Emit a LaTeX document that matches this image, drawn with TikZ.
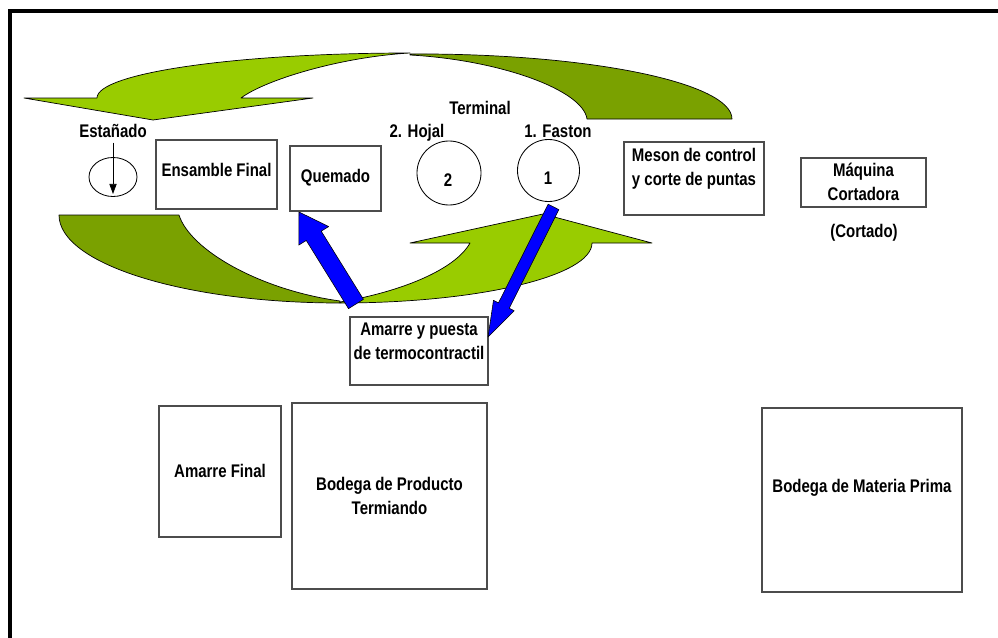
\documentclass[tikz,border=0pt]{standalone}
\usepackage{fontspec}
\newfontfamily\lblfont{Liberation Sans}[FakeStretch=0.82]
\usetikzlibrary{positioning}
\usetikzlibrary{calc}
\usetikzlibrary{shapes.geometric}
\usetikzlibrary{arrows.meta}
\definecolor{lightgreen}{RGB}{153,204,0}
\definecolor{darkgreen}{RGB}{122,161,0}

\begin{document}
\begin{tikzpicture}[x=0.025cm,y=-0.025cm]

\tikzstyle{box} = [draw=black!70, line width=0.8pt, inner sep=0pt, outer sep=0pt]
\tikzstyle{ring} = [circle, draw, line width=0.6pt, inner sep=0pt]
\tikzstyle{lbl} = [font=\lblfont\bfseries\fontsize{13}{17}\selectfont, inner sep=0pt, anchor=base]
\tikzstyle{lbltwo} = [lbl, anchor=center, align=center]
\tikzstyle{band} = [draw=black, line width=0.5pt, line join=round]
\tikzstyle{bluearrow} = [fill=blue, draw=black, line width=0.4pt, line join=round]
% tail, tip, half shaft, half head, head length
\def\blockarrow#1#2#3#4#5{
  \coordinate (ah) at ($(#2)!#5!(#1)$);
  \filldraw[bluearrow] ($(#1)!#3!90:(#2)$) -- ($(ah)!#3!90:(#2)$) -- ($(ah)!#4!90:(#2)$) -- (#2)
    -- ($(ah)!#4!-90:(#2)$) -- ($(ah)!#3!-90:(#2)$) -- ($(#1)!#3!-90:(#2)$) -- cycle;
}

\useasboundingbox (0,0) rectangle (998,637);
\clip (0,0) rectangle (998,637);
\draw[line width=2.6pt] (10,11) rectangle (1010,660);

% green arrows
\filldraw[fill=darkgreen, band] (410,54) .. controls (590,53) and (732,83) .. (732,119) -- (587,119)
  .. controls (583,90) and (500,60) .. (410,55) -- cycle;
\filldraw[fill=lightgreen, band] (153,120) -- (24,98) -- (97,98) .. controls (97,73) and (237,53) .. (410,53)
  .. controls (340,57) and (265,80) .. (241,98) -- (313,98) -- cycle;
\filldraw[fill=darkgreen, band] (59,215) -- (179,215) .. controls (190,250) and (260,290) .. (340,301)
  -- (340,303) .. controls (185,303) and (59,264) .. (59,215) -- cycle;
\filldraw[fill=lightgreen, band] (340,302) .. controls (400,292) and (455,270) .. (470,243) -- (410,243)
  -- (543,214) -- (652,243) -- (592,243) .. controls (592,276) and (479,303) .. (340,303) -- cycle;

% stations
\node [lbl] (tEstanado) at (113,137) {Estañado};
\node [draw, ellipse, line width=0.6pt, minimum width=1.2cm, minimum height=0.975cm, inner sep=0pt] (estanadoOval) at (113,177) {};
\draw [-{Triangle[length=2.5mm,width=1.8mm]}, line width=0.5pt, shorten <=3.6pt, shorten >=2.1pt] (tEstanado.south) -- (estanadoOval.south);

\node [box, minimum width=3.025cm, minimum height=1.725cm] (ensamble) at (216.5,174.5) {};
\node [lbl] (tEnsamble) at (216.5,176) {Ensamble Final};
\node [box, minimum width=2.275cm, minimum height=1.625cm] (quemado) at (335.5,178.5) {};
\node [lbl] (tQuemado) at (335.5,182) {Quemado};

\node [lbl] (tTerminal) at (480,114) {Terminal};
\node [lbl] (tHojal) at (417,137) {2. Hojal};
\node [ring, minimum size=1.6cm] (hojal) at (449,173) {};
\node [lbl] (tDos) at (448,186) {2};
\node [lbl] (tFaston) at (558,137) {1. Faston};
\node [ring, minimum size=1.55cm] (faston) at (548.5,170.5) {};
\node [lbl] (tUno) at (548,184) {1};

\node [box, minimum width=3.5cm, minimum height=1.825cm] (meson) at (694,178.5) {};
\node [lbltwo] (tMeson) at (694,168.8) {Meson de control\\y corte de puntas};
\node [box, minimum width=3.125cm, minimum height=1.225cm] (maquina) at (863.5,182.5) {};
\node [lbltwo] (tMaquina) at (863.5,181.9) {Máquina\\Cortadora};
\node [lbl] (tCortado) at (864,237) {(Cortado)};

\node [box, minimum width=3.45cm, minimum height=1.7cm] (puesta) at (419,351) {};
\node [lbltwo] (tPuesta) at (419,341.5) {Amarre y puesta\\de termocontractil};

\node [box, minimum width=3.05cm, minimum height=3.275cm] (amarreFinal) at (220,471.5) {};
\node [lbl] (tAmarreFinal) at (220,477) {Amarre Final};
\node [box, minimum width=4.875cm, minimum height=4.65cm] (bodegaProducto) at (389.5,496) {};
\node [lbltwo] (tBodegaProducto) at (389.5,495.9) {Bodega de Producto\\Termiando};
\node [box, minimum width=5cm, minimum height=4.6cm] (bodegaMateria) at (862,500) {};
\node [lbl] (tBodegaMateria) at (862,492) {Bodega de Materia Prima};

% blue arrows
\coordinate (blueOneTail) at ($(puesta.north west)+(6,-13)$);
\coordinate (blueOneTip) at ($(quemado.south west)+(9,1)$);
\blockarrow{blueOneTail}{blueOneTip}{0.22cm}{0.44cm}{0.7cm}
\coordinate (blueTwoTail) at ($(faston.south)+(5,5)$);
\coordinate (blueTwoTip) at ($(puesta.east)+(0,-14)$);
\blockarrow{blueTwoTail}{blueTwoTip}{0.15cm}{0.29cm}{0.88cm}

\end{tikzpicture}
\end{document}
